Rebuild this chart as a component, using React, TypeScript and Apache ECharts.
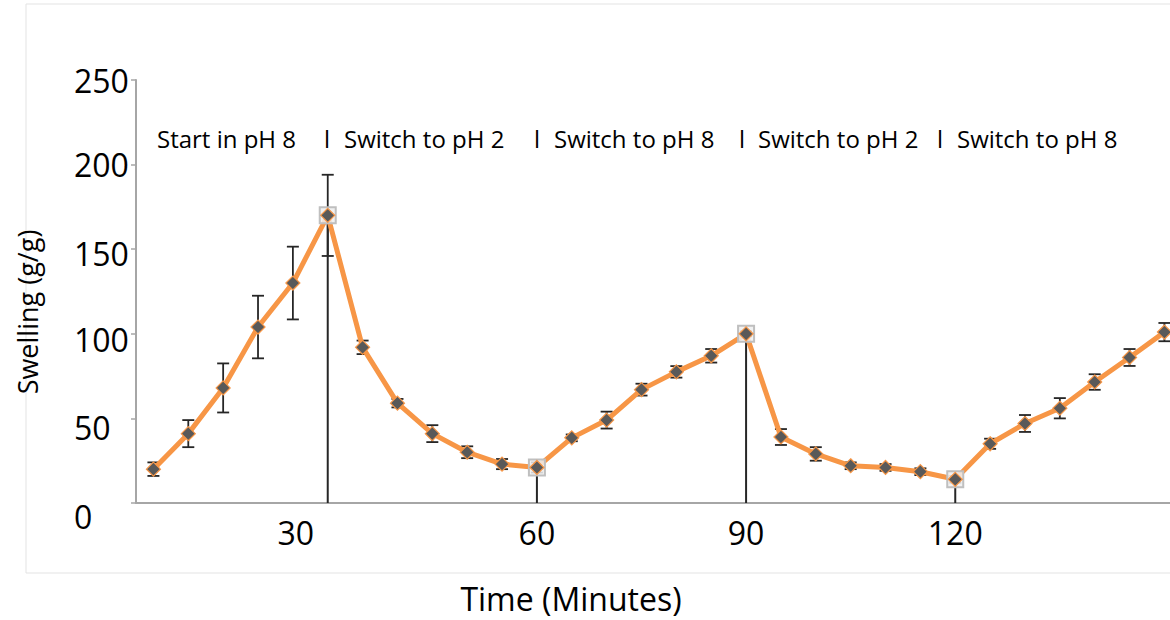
import React, { useEffect, useRef } from "react";
import * as echarts from "echarts";

const times = [5, 10, 15, 20, 25, 30, 35, 40, 45, 50, 55, 60, 65, 70, 75, 80, 85, 90, 95, 100, 105, 110, 115, 120, 125, 130, 135, 140, 145, 150];
const swelling = [20, 41, 68, 104, 130, 170, 92, 59, 41, 30, 23, 21, 38.5, 49, 67, 77.5, 87, 100, 39, 29, 22, 21, 18.5, 14, 35, 47, 56, 71.5, 86, 101];
const errors = [4, 8, 14.5, 18.5, 21.5, 24, 4, 2.5, 5, 3.5, 3, 3, 2, 5, 3.5, 3.4, 4, 1.5, 4.7, 4, 2, 2, 2, 2, 3, 5, 6, 4.6, 5, 5.4];
const switchTimes = [30, 60, 90, 120];
const xTickLabels = [30, 60, 90, 120];
const yTicks = [0, 50, 100, 150, 200, 250];
const phaseLabels = ["Start in pH 8", "Switch to pH 2", "Switch to pH 8", "Switch to pH 2", "Switch to pH 8"];
const separator = "l";

const FONT = "'Open Sans', sans-serif";

export default function App() {
  const ref = useRef<HTMLDivElement>(null);
  useEffect(() => {
    if (!ref.current) return;
    const chart = echarts.init(ref.current, null, { renderer: "svg" });

    const lineData = times.map((t, i) => [t, swelling[i]]);
    const errData = times.map((t, i) => [t, swelling[i], errors[i]]);
    const switchData = switchTimes.map((t) => [t, swelling[times.indexOf(t)]]);

    const phaseX = [157, 344, 554, 758, 957];
    const sepX = [327, 537, 742, 940];
    const yOffsets: Record<number, number> = { 0: 13, 50: 9, 100: 6, 150: 4, 200: 0, 250: 0 };
    const rich: Record<string, any> = {};
    yTicks.forEach((v) => {
      rich["y" + v] = { fontSize: 32, fontFamily: FONT, color: "#000", padding: [yOffsets[v] * 2, 0, 0, 0] };
    });

    const graphics: any[] = [
      { type: "rect", shape: { x: 26, y: 4, width: 1160, height: 569 }, style: { fill: "none", stroke: "#e3e3e3", lineWidth: 1 }, silent: true, z: 0 },
      { type: "text", x: 27, y: 312, rotation: Math.PI / 2, style: { text: "Swelling (g/g)", font: `27px ${FONT}`, fill: "#000", align: "center", verticalAlign: "middle" } },
      { type: "text", x: 571, y: 598, style: { text: "Time (Minutes)", font: `32px ${FONT}`, fill: "#000", align: "center", verticalAlign: "middle" } },
    ];
    phaseLabels.forEach((txt, i) => {
      graphics.push({ type: "text", x: phaseX[i], y: 138, style: { text: txt, font: `24px ${FONT}`, fill: "#000", align: "left", verticalAlign: "middle" } });
    });
    sepX.forEach((x) => {
      graphics.push({ type: "text", x, y: 138, style: { text: separator, font: `24px ${FONT}`, fill: "#000", align: "center", verticalAlign: "middle" } });
    });

    chart.setOption({
      animation: false,
      backgroundColor: "#fff",
      grid: { left: 136, right: 0, top: 80, bottom: 117, containLabel: false, outerBoundsMode: "none" },
      xAxis: {
        type: "value",
        min: 2.5,
        max: 150.8,
        splitLine: { show: false },
        axisTick: { show: false },
        axisLine: { show: true, lineStyle: { color: "#a6a6a6", width: 2 } },
        axisLabel: {
          customValues: xTickLabels,
          margin: 13,
          formatter: (v: number) => (v === 30 ? `{s|${v}}` : `{n|${v}}`),
          rich: {
            s: { fontSize: 32, fontFamily: FONT, color: "#000", padding: [0, 64, 0, 0] },
            n: { fontSize: 32, fontFamily: FONT, color: "#000" },
          },
        },
      },
      yAxis: {
        type: "value",
        min: 0,
        max: 250,
        interval: 50,
        splitLine: { show: false },
        axisLine: { show: true, lineStyle: { color: "#a6a6a6", width: 2 } },
        axisTick: { show: true, length: 5, lineStyle: { color: "#a6a6a6", width: 1.5 } },
        axisLabel: {
          align: "left",
          margin: 62,
          formatter: (v: number) => `{y${v}|${v}}`,
          rich,
        },
      },
      graphic: graphics,
      series: [
        {
          type: "custom",
          z: 1,
          data: errData,
          encode: { x: 0, y: 1 },
          renderItem: (params: any, api: any) => {
            const x = api.value(0);
            const y = api.value(1);
            const e = api.value(2);
            const top = api.coord([x, y + e]);
            const bot = api.coord([x, y - e]);
            const hw = 6;
            const st = { stroke: "#262626", lineWidth: 1.8 };
            return {
              type: "group",
              children: [
                { type: "line", shape: { x1: top[0], y1: top[1], x2: bot[0], y2: bot[1] }, style: st },
                { type: "line", shape: { x1: top[0] - hw, y1: top[1], x2: top[0] + hw, y2: top[1] }, style: st },
                { type: "line", shape: { x1: bot[0] - hw, y1: bot[1], x2: bot[0] + hw, y2: bot[1] }, style: st },
              ],
            };
          },
        },
        {
          type: "custom",
          z: 1,
          data: switchData,
          encode: { x: 0, y: 1 },
          renderItem: (params: any, api: any) => {
            const x = api.value(0);
            const y = api.value(1);
            const p = api.coord([x, y]);
            const b = api.coord([x, 0]);
            return { type: "line", shape: { x1: p[0], y1: p[1], x2: b[0], y2: b[1] }, style: { stroke: "#262626", lineWidth: 2 } };
          },
        },
        {
          type: "line",
          z: 2,
          data: lineData,
          showSymbol: false,
          symbol: "none",
          lineStyle: { color: "#F79646", width: 5 },
        },
        {
          type: "scatter",
          z: 3,
          data: switchData,
          symbol: "rect",
          symbolSize: 16,
          itemStyle: { color: "rgba(238,238,238,0.85)", borderColor: "#bfbfbf", borderWidth: 2, opacity: 1 },
        },
        {
          type: "scatter",
          z: 4,
          data: lineData,
          symbol: "diamond",
          symbolSize: 14,
          itemStyle: { color: "#595959", borderColor: "#F79646", borderWidth: 1.2, opacity: 1 },
        },
      ],
    });
    return () => chart.dispose();
  }, []);
  return <div ref={ref} style={{ position: "absolute", left: 0, top: 0, width: 1170, height: 620, background: "#fff" }} />;
}
